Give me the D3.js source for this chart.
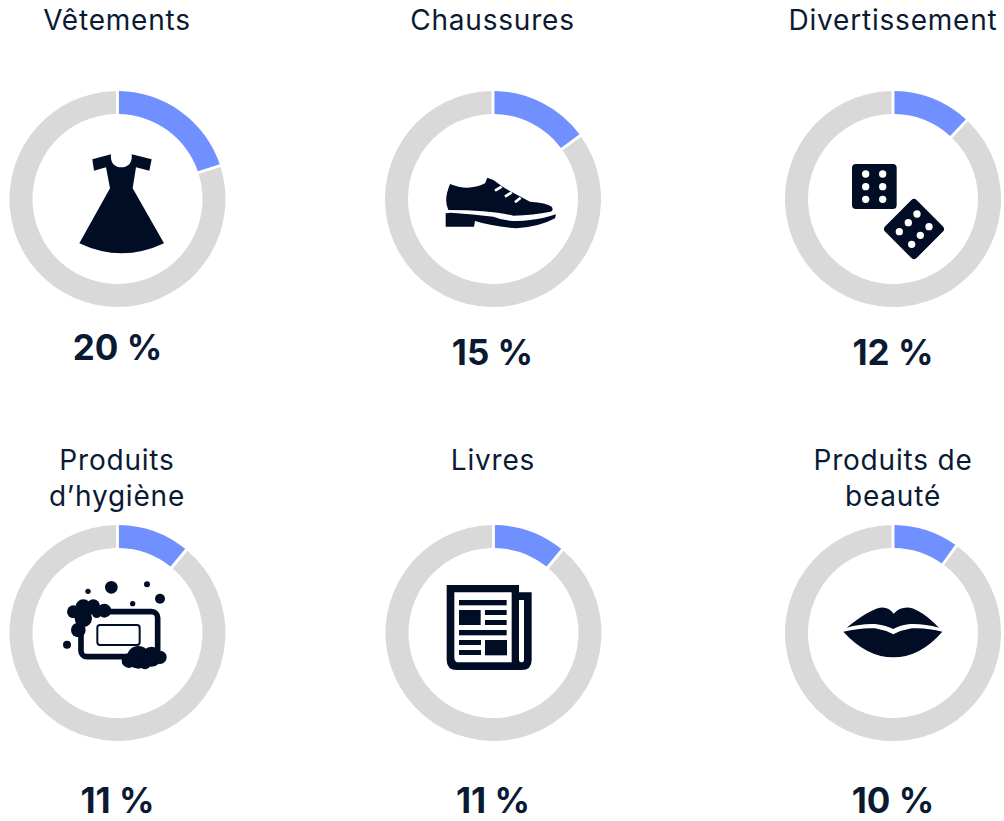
<!DOCTYPE html>
<html>
<head>
<meta charset="utf-8">
<script src="https://cdn.jsdelivr.net/npm/d3@7"></script>
<style>
    html, body { margin: 0; padding: 0; background: #fff; }
    text { font-family: Inter, "Noto Sans", sans-serif; fill: #0b1a33; }
</style>
</head>
<body>
<div id="chart"></div>
<script>
const categories = [["Vêtements"], ["Chaussures"], ["Divertissement"], ["Produits", "d’hygiène"], ["Livres"], ["Produits de", "beauté"]];
const shares = [20, 15, 12, 11, 11, 10];
const shareLabels = ["20 %", "15 %", "12 %", "11 %", "11 %", "10 %"];
const iconNames = ["dress", "shoe", "dice", "soap", "paper", "lips"];

const width = 1004, height = 821;
const outerR = 108, innerR = 85;
const dark = "#000d24";

// donut centres and where the texts sit, one per panel
const centers = [[117.5, 199], [493, 199], [893, 199], [117.5, 633], [493.5, 633], [893, 633]];
const titleX = [117, 492.5, 893, 117, 493, 893];
const titleY = [30, 30, 30, 470, 470, 470];
const valueX = [117.5, 492.5, 893, 117.5, 493, 893];
const valueY = [360, 365, 365, 813, 813, 813];

const svg = d3.select("#chart").append("svg")
    .attr("width", width)
    .attr("height", height)
    .style("display", "block");

const pie = d3.pie().sort(null).value(d => d);
const arc = d3.arc().innerRadius(innerR).outerRadius(outerR).padAngle(0.03).padRadius(96);
const sliceColor = ["#7090ff", "#d9d9d9"];

const panels = svg.selectAll("g.panel")
    .data(categories.map((c, i) => ({ lines: c, share: shares[i], label: shareLabels[i], icon: iconNames[i], i: i })))
    .enter().append("g")
    .attr("class", "panel");

// Donut for each category
panels.append("g")
    .attr("transform", d => `translate(${centers[d.i][0]},${centers[d.i][1]})`)
    .selectAll("path")
    .data(d => pie([d.share, 100 - d.share]))
    .enter().append("path")
    .attr("d", arc)
    .attr("fill", (d, i) => sliceColor[i]);

// Title, one or two lines
panels.append("text")
    .attr("text-anchor", "middle")
    .attr("font-size", 28)
    .attr("letter-spacing", 0.8)
    .selectAll("tspan")
    .data(d => d.lines.map((l, k) => ({ l: l, k: k, i: d.i })))
    .enter().append("tspan")
    .attr("x", d => titleX[d.i])
    .attr("y", d => titleY[d.i] + d.k * 36)
    .text(d => d.l);

panels.append("text")
    .attr("x", d => valueX[d.i])
    .attr("y", d => valueY[d.i])
    .attr("text-anchor", "middle")
    .attr("font-size", 35)
    .attr("font-weight", 700)
    .text(d => d.label);

function iconGroup(d, cropX, cropY) {
    return svg.append("g")
        .attr("transform", `translate(${cropX},${cropY}) scale(${1 / 3})`)
        .attr("fill", dark);
}

function drawDress() {
    const g = iconGroup(0, 60, 130);
    g.append("path").attr("d", "M153,73 C150,100 165,112 184,112 C203,112 218,100 215,73 L275,88 L268,122 L228,112 L218,175 L312,340 Q185,400 58,340 L150,175 L138,112 L102,122 L97,88 Z");
}

function drawShoe() {
    const g = iconGroup(0, 430, 160);
    g.append("path").attr("d", "M60,72 Q115,95 165,70 L172,53 L190,60 L225,85 L300,125 Q350,128 365,140 Q372,150 362,155 Q310,165 250,167 Q180,150 55,150 Q40,120 60,72 Z");
    g.append("path").attr("d", "M47,160 L62,158 Q130,162 190,170 Q240,190 300,180 Q345,175 378,163 L375,175 Q330,200 260,205 Q190,200 135,183 L132,200 L47,200 Z");
    g.selectAll("line").data([[195, 92, 215, 80], [225, 110, 245, 97], [255, 127, 272, 113]])
        .enter().append("line")
        .attr("x1", d => d[0]).attr("y1", d => d[1]).attr("x2", d => d[2]).attr("y2", d => d[3])
        .attr("stroke", "#fff").attr("stroke-width", 8);
}

function drawDice() {
    const g = iconGroup(0, 840, 150);
    g.append("rect").attr("x", 36).attr("y", 42).attr("width", 134).attr("height", 135).attr("rx", 12);
    g.append("rect").attr("x", 155).attr("y", 170).attr("width", 134).attr("height", 134).attr("rx", 12)
        .attr("transform", "rotate(45 222 237)");
    g.selectAll("circle")
        .data([[77, 72], [128, 72], [77, 110], [128, 110], [77, 148], [128, 148], [231, 192], [205, 218], [178, 245], [267, 230], [241, 256], [215, 283]])
        .enter().append("circle")
        .attr("cx", d => d[0]).attr("cy", d => d[1]).attr("r", 11).attr("fill", "#fff");
}

function drawSoap() {
    const g = iconGroup(0, 55, 570);
    g.append("rect").attr("x", 78).attr("y", 125).attr("width", 230).attr("height", 135).attr("rx", 18)
        .attr("fill", "none").attr("stroke", dark).attr("stroke-width", 17);
    g.append("rect").attr("x", 127).attr("y", 165).attr("width", 127).attr("height", 60).attr("rx", 8)
        .attr("fill", "none").attr("stroke", dark).attr("stroke-width", 6);
    g.selectAll("circle")
        .data([[169, 52, 19], [99, 64, 8], [276, 43, 9], [315, 86, 15], [233, 101, 8], [36, 224, 12],
            [85, 112, 24], [115, 108, 20], [55, 125, 19], [85, 145, 26], [148, 122, 21], [70, 180, 22], [125, 130, 14],
            [250, 262, 34], [222, 272, 22], [290, 260, 30], [315, 262, 20], [270, 280, 18]])
        .enter().append("circle")
        .attr("cx", d => d[0]).attr("cy", d => d[1]).attr("r", d => d[2]);
}

function drawPaper() {
    const g = iconGroup(0, 435, 575);
    g.append("path").attr("d", "M35,30 H252 V52 H290 V255 Q290,285 260,285 H65 Q35,285 35,255 Z");
    g.append("path").attr("fill", "#fff").attr("d", "M58,52 H230 V262 H72 Q58,262 58,248 Z");
    g.append("path").attr("fill", "#fff").attr("d", "M252,75 H267 V255 Q267,262 259,262 Q252,262 252,255 Z");
    g.selectAll("rect")
        .data([[72, 75, 143, 16], [72, 105, 65, 45], [150, 105, 65, 15], [150, 135, 65, 15], [72, 165, 143, 16], [72, 195, 66, 15], [72, 225, 66, 15], [150, 195, 66, 46]])
        .enter().append("rect")
        .attr("x", d => d[0]).attr("y", d => d[1]).attr("width", d => d[2]).attr("height", d => d[3]);
}

function drawLips() {
    const g = iconGroup(0, 835, 595);
    g.append("path").attr("d", "M35,98 Q100,45 135,38 Q160,34 176,56 Q195,34 225,38 Q260,45 312,98 Q265,85 225,87 Q195,90 175,102 Q150,90 120,87 Q80,85 35,98 Z");
    g.append("path").attr("d", "M25,110 Q80,97 120,100 Q150,105 175,118 Q200,105 230,100 Q275,97 322,110 Q255,187 175,187 Q95,187 25,110 Z");
}

drawDress();
drawShoe();
drawDice();
drawSoap();
drawPaper();
drawLips();
</script>
</body>
</html>
